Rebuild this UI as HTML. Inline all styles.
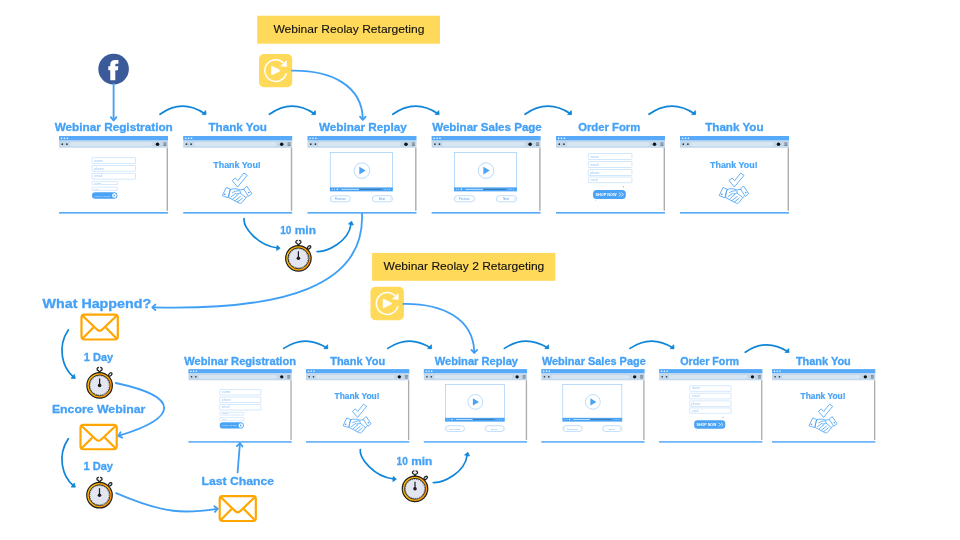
<!DOCTYPE html>
<html><head><meta charset="utf-8"><style>
html,body{margin:0;padding:0;background:#fff;width:960px;height:540px;overflow:hidden}
svg{display:block;font-family:"Liberation Sans",sans-serif;will-change:transform}
</style></head><body>
<svg width="960" height="540" viewBox="0 0 960 540">
<defs>
<g id="frame">
<rect x="0" y="0" width="109" height="77" fill="#fff"/>
<rect x="0" y="0" width="109" height="4.6" fill="#56aaf9"/>
<circle cx="2.6" cy="2.3" r="0.8" fill="#fff"/><circle cx="5.5" cy="2.3" r="0.8" fill="#fff"/><circle cx="8.4" cy="2.3" r="0.8" fill="#fff"/>
<rect x="0" y="4.6" width="109" height="7.2" fill="#c3d9eb"/>
<rect x="10.5" y="6.1" width="83" height="4.1" rx="2" fill="#d8e6f1"/>
<circle cx="3.3" cy="8.2" r="0.85" fill="#333"/><circle cx="7.9" cy="8.2" r="0.85" fill="#333"/>
<circle cx="98.5" cy="8.2" r="1.75" fill="#111"/>
<rect x="104.2" y="6.3" width="3.4" height="3.8" fill="#b9c9d6"/><path d="M104.4,6.9 H107.4 M104.4,8.2 H107.4 M104.4,9.5 H107.4" stroke="#56626c" stroke-width="0.6"/>
<rect x="107.6" y="11.8" width="1.4" height="63" fill="#acacac"/>
<rect x="0" y="76.1" width="109" height="1.5" fill="#4aa3f7"/>
</g>
<g id="regform">
<rect x="33.1" y="21.6" width="43.4" height="5.8" rx="0.6" fill="none" stroke="#a9d0f7" stroke-width="0.5"/>
<rect x="33.1" y="29.5" width="43.4" height="5.8" rx="0.6" fill="none" stroke="#a9d0f7" stroke-width="0.5"/>
<rect x="33.1" y="37.4" width="43.4" height="5.8" rx="0.6" fill="none" stroke="#a9d0f7" stroke-width="0.5"/>
<rect x="33.1" y="45.6" width="25.5" height="2.9" rx="0.6" fill="none" stroke="#a9d0f7" stroke-width="0.45"/>
<rect x="33.1" y="51.2" width="25.5" height="3.2" rx="0.6" fill="none" stroke="#a9d0f7" stroke-width="0.45"/>
<text x="35.3" y="25.6" font-size="3.2" fill="#9cc6f2" textLength="9" lengthAdjust="spacingAndGlyphs">name</text>
<text x="35.3" y="33.5" font-size="3.2" fill="#9cc6f2" textLength="9.5" lengthAdjust="spacingAndGlyphs">phone</text>
<text x="35.3" y="41.4" font-size="3.2" fill="#9cc6f2" textLength="8" lengthAdjust="spacingAndGlyphs">email</text>
<text x="35.6" y="47.9" font-size="2.4" fill="#8fc0f2" textLength="6.5" lengthAdjust="spacingAndGlyphs">prof</text>
<text x="35.6" y="53.8" font-size="2.4" fill="#9cc8f3" textLength="4.2" lengthAdjust="spacingAndGlyphs">loc</text>
<rect x="33" y="56.2" width="25.4" height="6.6" rx="3.3" fill="#4aa3f5"/>
<text x="34.8" y="60.5" font-size="2.5" font-weight="bold" fill="#c4e0fc" textLength="16" lengthAdjust="spacingAndGlyphs">APPLY NOW</text>
<circle cx="55.3" cy="59.5" r="2.3" fill="#fff"/>
<path d="M54.6,58.3 L56.4,59.5 L54.6,60.7 Z" fill="#4aa3f5"/>
</g>
<g id="thanks">
<text x="30.1" y="31.6" font-size="8.6" font-weight="bold" fill="#49a4f7" stroke="#49a4f7" stroke-width="0.2" textLength="47.5" lengthAdjust="spacingAndGlyphs">Thank You!</text>
<g fill="none" stroke="#4aa3f5" stroke-width="0.85" stroke-linejoin="round" stroke-linecap="round">
<path d="M49.33,44.33 L52.00,42.00 L54.67,44.67 L60.67,37.00 L64.00,39.33 L54.67,50.67 Z"/>
<path d="M39.33,59.33 L43.00,51.47 L47.13,53.33 L45.00,61.33 Z"/>
<path d="M63.67,50.33 L68.67,57.67 L65.33,60.33 L60.67,53.33 Z"/>
<path d="M47.13,53.33 C50.33,52.33 54.33,52.53 57.00,54.00 C58.33,53.67 59.33,53.33 60.67,53.33"/>
<path d="M49.33,56.67 C51.00,55.67 53.67,54.33 56.00,54.80 C57.67,55.20 58.00,57.00 55.67,57.47 L53.33,58.00"/>
<path d="M47.13,54.00 C46.00,56.00 45.67,59.33 45.67,61.67 L56.33,67.20 C57.33,67.67 58.00,67.33 58.67,66.67 L64.00,60.33"/>
<path d="M48.00,60.67 L52.47,57.33 M49.80,62.80 L55.00,58.53 M52.00,64.53 L57.33,60.33 M54.47,66.00 L59.33,62.00 M57.00,57.00 L62.33,61.33"/>
<circle cx="41.6" cy="58.2" r="0.35" fill="#4aa3f5"/><circle cx="65.6" cy="56.6" r="0.35" fill="#4aa3f5"/>
</g>
</g>
<g id="video">
<rect x="22.7" y="16.4" width="62.3" height="38.6" fill="none" stroke="#8cc3f7" stroke-width="0.6"/>
<circle cx="54.4" cy="34.6" r="7.8" fill="none" stroke="#8cc3f7" stroke-width="0.6"/>
<path d="M51.8,30.8 L58.2,34.6 L51.8,38.4 Z" fill="#4aa3f5"/>
<rect x="22.4" y="51.4" width="62.9" height="3.8" fill="#4aa3f5"/>
<rect x="33.8" y="52.9" width="17.8" height="0.8" fill="#d9ecfd"/>
<rect x="51.6" y="52.9" width="22.2" height="0.8" fill="#3a6e98"/>
<circle cx="25" cy="53.3" r="0.5" fill="#d9ecfd"/><circle cx="27" cy="53.3" r="0.5" fill="#d9ecfd"/><circle cx="29.8" cy="53.3" r="0.7" fill="#fff"/>
<circle cx="77.5" cy="53.3" r="0.5" fill="#d9ecfd"/><circle cx="79.5" cy="53.3" r="0.5" fill="#d9ecfd"/><circle cx="82" cy="53.3" r="0.5" fill="#d9ecfd"/>
<rect x="22.7" y="59.7" width="20.2" height="6.1" rx="3" fill="none" stroke="#8cc3f7" stroke-width="0.55"/>
<rect x="64.8" y="59.7" width="20.2" height="6.1" rx="3" fill="none" stroke="#8cc3f7" stroke-width="0.55"/>
<text x="27.2" y="63.9" font-size="2.6" fill="#5aa2ea" textLength="11" lengthAdjust="spacingAndGlyphs">Previous</text>
<text x="71.3" y="63.9" font-size="2.6" fill="#5aa2ea" textLength="6.2" lengthAdjust="spacingAndGlyphs">Next</text>
<path d="M24.8,61.9 L24,62.75 L24.8,63.6 M82.9,61.9 L83.7,62.75 L82.9,63.6" fill="none" stroke="#6aaef0" stroke-width="0.4"/>
</g>
<g id="order">
<rect x="32.3" y="17.5" width="43.6" height="6" rx="0.6" fill="none" stroke="#a9d0f7" stroke-width="0.5"/>
<rect x="32.3" y="25.5" width="43.6" height="6" rx="0.6" fill="none" stroke="#a9d0f7" stroke-width="0.5"/>
<rect x="32.3" y="33.5" width="43.6" height="6" rx="0.6" fill="none" stroke="#a9d0f7" stroke-width="0.5"/>
<rect x="32.3" y="41" width="43.6" height="5.7" rx="0.6" fill="none" stroke="#a9d0f7" stroke-width="0.5"/>
<text x="34.4" y="21.5" font-size="3" fill="#9cc6f2" textLength="8.5" lengthAdjust="spacingAndGlyphs">name</text>
<text x="34.6" y="29.5" font-size="3" fill="#9cc6f2" textLength="8" lengthAdjust="spacingAndGlyphs">email</text>
<text x="34" y="37.5" font-size="3" fill="#9cc6f2" textLength="9.5" lengthAdjust="spacingAndGlyphs">phone</text>
<text x="34.4" y="44.9" font-size="3" fill="#9cc6f2" textLength="7" lengthAdjust="spacingAndGlyphs">card</text>
<rect x="37" y="54" width="32.8" height="8.9" rx="3.5" fill="#4aa3f5"/>
<text x="39.5" y="59.7" font-size="3.6" font-weight="bold" fill="#fff" textLength="21" lengthAdjust="spacingAndGlyphs">SHOP NOW</text>
<path d="M62.8,56.6 L65,58.5 L62.8,60.4 M65.3,56.6 L67.5,58.5 L65.3,60.4" fill="none" stroke="#fff" stroke-width="0.7"/>
<path d="M67.2,51.2 L68,50.4 M67.3,50.6 l0.3,0.3" stroke="#4aa3f5" stroke-width="0.9"/>
<path d="M39,65 L40,64.3" stroke="#9cc6f2" stroke-width="0.6"/>
</g>
<linearGradient id="ringg" x1="0" y1="0" x2="1" y2="0.3"><stop offset="0" stop-color="#ffc107"/><stop offset="0.55" stop-color="#ffad00"/><stop offset="1" stop-color="#ff9800"/></linearGradient>
<g id="watch">
<rect x="-1.2" y="-14.6" width="2.4" height="2.2" fill="#1f1f1f"/>
<ellipse cx="0" cy="-16.3" rx="2.2" ry="1.45" fill="#eef0f6"/><path d="M-0.6,-17.9 C-3.2,-18.1 -3.2,-14.5 -0.6,-14.7 M0.6,-17.9 C3.2,-18.1 3.2,-14.5 0.6,-14.7" fill="none" stroke="#1f1f1f" stroke-width="1.25"/>
<g transform="translate(10.7,-10.9) rotate(45)"><ellipse cx="0" cy="0" rx="1.25" ry="2.05" fill="#f4f5f9" stroke="#1f1f1f" stroke-width="1.25"/></g>
<circle cx="0" cy="0" r="12.75" fill="url(#ringg)" stroke="#1f1f1f" stroke-width="1.2"/>
<circle cx="0" cy="0" r="10.4" fill="#e3e6f1" stroke="#1f1f1f" stroke-width="0.9"/>
<path d="M8.3,-5.2 A9.6,9.6 0 0 1 -1.5,9.5 A8.6,8.6 0 0 0 7.2,-4.6 Z" fill="#ccd1e0"/>
<circle cx="0" cy="0" r="9.55" fill="none" stroke="#2a2a2a" stroke-width="0.9" stroke-dasharray="0.6 1.4"/>
<line x1="0" y1="0" x2="0" y2="-7" stroke="#1f1f1f" stroke-width="1.2"/>
<circle cx="0" cy="0" r="1.8" fill="#1f1f1f"/>
</g>
<g id="env">
<rect x="1.1" y="1.1" width="36.3" height="24.9" rx="3" fill="#fff" stroke="#ffa600" stroke-width="2.2"/>
<path d="M2,2 L16.3,15.8 Q19.2,18.8 22.1,15.8 L36.5,2" fill="none" stroke="#ffa600" stroke-width="2.2"/>
<path d="M2.2,25 L13,14 M36.2,25 L25.4,14" fill="none" stroke="#ffa600" stroke-width="2.2"/>
</g>
<g id="replay">
<rect x="0" y="0" width="33.2" height="33.2" rx="5" fill="#ffd95a"/>
<path d="M27.3,19.2 A10.9,10.9 0 1 1 24.6,9" fill="none" stroke="#fff" stroke-width="1.5"/>
<path d="M27.5,6.8 L27.7,12.6 L21.8,12.1 Z" fill="#fff" stroke="#fff" stroke-width="0.5" stroke-linejoin="round"/>
<path d="M13.3,12.6 Q12.7,12.2 12.7,13 L12.7,20.2 Q12.7,21 13.3,20.6 L20.6,16.9 Q21.3,16.6 20.6,16.2 Z" fill="#fff" stroke="#fff" stroke-width="1" stroke-linejoin="round"/>
</g>
</defs>
<rect width="960" height="540" fill="#fff"/>
<g transform="translate(59,136)"><use href="#frame"/><use href="#regform"/></g>
<g transform="translate(183.2,136)"><use href="#frame"/><use href="#thanks"/></g>
<g transform="translate(307.5,136)"><use href="#frame"/><use href="#video"/></g>
<g transform="translate(431.6,136)"><use href="#frame"/><use href="#video"/></g>
<g transform="translate(556,136)"><use href="#frame"/><use href="#order"/></g>
<g transform="translate(680,136)"><use href="#frame"/><use href="#thanks"/></g>
<g transform="translate(188.4,369.1) scale(0.9477)"><use href="#frame"/><use href="#regform"/></g>
<g transform="translate(306,369.1) scale(0.9477)"><use href="#frame"/><use href="#thanks"/></g>
<g transform="translate(423.8,369.1) scale(0.9477)"><use href="#frame"/><use href="#video"/></g>
<g transform="translate(541.3,369.1) scale(0.9477)"><use href="#frame"/><use href="#video"/></g>
<g transform="translate(659.1,369.1) scale(0.9477)"><use href="#frame"/><use href="#order"/></g>
<g transform="translate(772,369.1) scale(0.9477)"><use href="#frame"/><use href="#thanks"/></g>
<text x="54.7" y="130.9" font-size="11.2" font-weight="bold" fill="#44a1f6" stroke="#44a1f6" stroke-width="0.3" stroke-linejoin="round" textLength="118.1" lengthAdjust="spacingAndGlyphs">Webinar Registration</text>
<text x="208.5" y="130.9" font-size="11.2" font-weight="bold" fill="#44a1f6" stroke="#44a1f6" stroke-width="0.3" stroke-linejoin="round" textLength="58.4" lengthAdjust="spacingAndGlyphs">Thank You</text>
<text x="318.95" y="130.9" font-size="11.2" font-weight="bold" fill="#44a1f6" stroke="#44a1f6" stroke-width="0.3" stroke-linejoin="round" textLength="87.85" lengthAdjust="spacingAndGlyphs">Webinar Replay</text>
<text x="432.2" y="130.9" font-size="11.2" font-weight="bold" fill="#44a1f6" stroke="#44a1f6" stroke-width="0.3" stroke-linejoin="round" textLength="109.6" lengthAdjust="spacingAndGlyphs">Webinar Sales Page</text>
<text x="578.2" y="130.9" font-size="11.2" font-weight="bold" fill="#44a1f6" stroke="#44a1f6" stroke-width="0.3" stroke-linejoin="round" textLength="62.1" lengthAdjust="spacingAndGlyphs">Order Form</text>
<text x="705.2" y="130.9" font-size="11.2" font-weight="bold" fill="#44a1f6" stroke="#44a1f6" stroke-width="0.3" stroke-linejoin="round" textLength="58.35" lengthAdjust="spacingAndGlyphs">Thank You</text>
<text x="184.29999999999998" y="364.6" font-size="10.6" font-weight="bold" fill="#44a1f6" stroke="#44a1f6" stroke-width="0.3" stroke-linejoin="round" textLength="111.75" lengthAdjust="spacingAndGlyphs">Webinar Registration</text>
<text x="330.2" y="364.6" font-size="10.6" font-weight="bold" fill="#44a1f6" stroke="#44a1f6" stroke-width="0.3" stroke-linejoin="round" textLength="55.1" lengthAdjust="spacingAndGlyphs">Thank You</text>
<text x="434.7" y="364.6" font-size="10.6" font-weight="bold" fill="#44a1f6" stroke="#44a1f6" stroke-width="0.3" stroke-linejoin="round" textLength="83.35" lengthAdjust="spacingAndGlyphs">Webinar Replay</text>
<text x="541.9000000000001" y="364.6" font-size="10.6" font-weight="bold" fill="#44a1f6" stroke="#44a1f6" stroke-width="0.3" stroke-linejoin="round" textLength="103.9" lengthAdjust="spacingAndGlyphs">Webinar Sales Page</text>
<text x="680.2" y="364.6" font-size="10.6" font-weight="bold" fill="#44a1f6" stroke="#44a1f6" stroke-width="0.3" stroke-linejoin="round" textLength="58.9" lengthAdjust="spacingAndGlyphs">Order Form</text>
<text x="795.9000000000001" y="364.6" font-size="10.6" font-weight="bold" fill="#44a1f6" stroke="#44a1f6" stroke-width="0.3" stroke-linejoin="round" textLength="54.9" lengthAdjust="spacingAndGlyphs">Thank You</text>
<text x="42.6" y="308.2" font-size="12.6" font-weight="bold" fill="#44a1f6" stroke="#44a1f6" stroke-width="0.3" stroke-linejoin="round" textLength="108.5" lengthAdjust="spacingAndGlyphs">What Happend?</text>
<text x="83.8" y="360.6" font-size="11.8" font-weight="bold" fill="#44a1f6" stroke="#44a1f6" stroke-width="0.3" stroke-linejoin="round" textLength="29.4" lengthAdjust="spacingAndGlyphs">1 Day</text>
<text x="51.9" y="413.1" font-size="11.8" font-weight="bold" fill="#44a1f6" stroke="#44a1f6" stroke-width="0.3" stroke-linejoin="round" textLength="93.4" lengthAdjust="spacingAndGlyphs">Encore Webinar</text>
<text x="83.4" y="470.4" font-size="11.8" font-weight="bold" fill="#44a1f6" stroke="#44a1f6" stroke-width="0.3" stroke-linejoin="round" textLength="29.6" lengthAdjust="spacingAndGlyphs">1 Day</text>
<text x="201.5" y="484.5" font-size="11.8" font-weight="bold" fill="#44a1f6" stroke="#44a1f6" stroke-width="0.3" stroke-linejoin="round" textLength="72.6" lengthAdjust="spacingAndGlyphs">Last Chance</text>
<text x="280.2" y="233.9" font-size="11.0" font-weight="bold" fill="#44a1f6" stroke="#44a1f6" stroke-width="0.3" stroke-linejoin="round" textLength="11.2" lengthAdjust="spacingAndGlyphs">10</text>
<text x="294.8" y="233.9" font-size="11.0" font-weight="bold" fill="#44a1f6" stroke="#44a1f6" stroke-width="0.3" stroke-linejoin="round" textLength="21.1" lengthAdjust="spacingAndGlyphs">min</text>
<text x="396.6" y="464.9" font-size="11.0" font-weight="bold" fill="#44a1f6" stroke="#44a1f6" stroke-width="0.3" stroke-linejoin="round" textLength="11.2" lengthAdjust="spacingAndGlyphs">10</text>
<text x="411.2" y="464.9" font-size="11.0" font-weight="bold" fill="#44a1f6" stroke="#44a1f6" stroke-width="0.3" stroke-linejoin="round" textLength="21.1" lengthAdjust="spacingAndGlyphs">min</text>
<rect x="257.2" y="15.7" width="182.8" height="28" fill="#ffd95a"/>
<text x="273.4" y="33.4" font-size="11.6" font-weight="normal" fill="#111" stroke="#111" stroke-width="0.12" stroke-linejoin="round" textLength="151.0" lengthAdjust="spacingAndGlyphs">Webinar Reolay Retargeting</text>
<rect x="372.1" y="252.9" width="183.3" height="27.9" fill="#ffd95a"/>
<text x="383.5" y="269.9" font-size="11.2" font-weight="normal" fill="#111" stroke="#111" stroke-width="0.12" stroke-linejoin="round" textLength="160.8" lengthAdjust="spacingAndGlyphs">Webinar Reolay 2 Retargeting</text>
<use href="#replay" transform="translate(259,54)"/>
<use href="#replay" transform="translate(370.5,286.8) scale(1.005)"/>
<circle cx="113.6" cy="69.1" r="15.3" fill="#3b5a9a"/>
<path d="M110.3,80.2 L110.3,70.2 L108.3,70.2 L108.3,66.2 L110.3,66.2 L110.3,64.6 C110.3,61.4 112,59.9 115.2,59.9 L118.4,59.9 L118.4,63.7 L116.7,63.7 C115.7,63.7 115.3,64.1 115.3,65 L115.3,66.2 L118.3,66.2 L117.9,70.2 L115.3,70.2 L115.3,80.2 Z" fill="#fff"/>
<use href="#env" transform="translate(80.4,313.5)"/>
<use href="#env" transform="translate(79.4,423.8) scale(0.998,0.98)"/>
<use href="#env" transform="translate(218.6,495) scale(0.995,1)"/>
<use href="#watch" transform="translate(298.4,258.3)"/>
<use href="#watch" transform="translate(415,488.8)"/>
<use href="#watch" transform="translate(99.6,385.4)"/>
<use href="#watch" transform="translate(99.5,495.2)"/>
<path d="M160,114.3 Q182.0,98.3 204.8,113.7" fill="none" stroke="#0e85d8" stroke-width="1.7" stroke-linecap="round"/>
<path d="M202.0,114.6 L206.1,114.6 L205.7,110.6 Z" fill="#0e85d8" stroke="#0e85d8" stroke-width="0.7" stroke-linejoin="round"/>
<path d="M269.4,114.3 Q291.5,98.3 314.40000000000003,113.7" fill="none" stroke="#0e85d8" stroke-width="1.7" stroke-linecap="round"/>
<path d="M311.6,114.6 L315.70000000000005,114.6 L315.3,110.6 Z" fill="#0e85d8" stroke="#0e85d8" stroke-width="0.7" stroke-linejoin="round"/>
<path d="M392.8,114.3 Q414.95000000000005,98.3 437.90000000000003,113.7" fill="none" stroke="#0e85d8" stroke-width="1.7" stroke-linecap="round"/>
<path d="M435.1,114.6 L439.20000000000005,114.6 L438.8,110.6 Z" fill="#0e85d8" stroke="#0e85d8" stroke-width="0.7" stroke-linejoin="round"/>
<path d="M525,114.3 Q547.3,98.3 570.4,113.7" fill="none" stroke="#0e85d8" stroke-width="1.7" stroke-linecap="round"/>
<path d="M567.6,114.6 L571.7,114.6 L571.3000000000001,110.6 Z" fill="#0e85d8" stroke="#0e85d8" stroke-width="0.7" stroke-linejoin="round"/>
<path d="M649,114.3 Q671.3,98.3 694.4,113.7" fill="none" stroke="#0e85d8" stroke-width="1.7" stroke-linecap="round"/>
<path d="M691.6,114.6 L695.7,114.6 L695.3000000000001,110.6 Z" fill="#0e85d8" stroke="#0e85d8" stroke-width="0.7" stroke-linejoin="round"/>
<path d="M283.75,348.4 Q304.775,334.0 326.6,347.79999999999995" fill="none" stroke="#0e85d8" stroke-width="1.7" stroke-linecap="round"/>
<path d="M323.8,348.7 L327.90000000000003,348.7 L327.5,344.7 Z" fill="#0e85d8" stroke="#0e85d8" stroke-width="0.7" stroke-linejoin="round"/>
<path d="M387.8,348.4 Q408.70000000000005,334.0 430.40000000000003,347.79999999999995" fill="none" stroke="#0e85d8" stroke-width="1.7" stroke-linecap="round"/>
<path d="M427.6,348.7 L431.70000000000005,348.7 L431.3,344.7 Z" fill="#0e85d8" stroke="#0e85d8" stroke-width="0.7" stroke-linejoin="round"/>
<path d="M504.4,348.4 Q525.575,334.0 547.55,347.79999999999995" fill="none" stroke="#0e85d8" stroke-width="1.7" stroke-linecap="round"/>
<path d="M544.75,348.7 L548.85,348.7 L548.45,344.7 Z" fill="#0e85d8" stroke="#0e85d8" stroke-width="0.7" stroke-linejoin="round"/>
<path d="M630,348.4 Q651.0,334.0 672.8,347.79999999999995" fill="none" stroke="#0e85d8" stroke-width="1.7" stroke-linecap="round"/>
<path d="M670.0,348.7 L674.1,348.7 L673.7,344.7 Z" fill="#0e85d8" stroke="#0e85d8" stroke-width="0.7" stroke-linejoin="round"/>
<path d="M745.3,352.2 Q766.15,337.8 787.8,351.59999999999997" fill="none" stroke="#0e85d8" stroke-width="1.7" stroke-linecap="round"/>
<path d="M785.0,352.5 L789.1,352.5 L788.7,348.5 Z" fill="#0e85d8" stroke="#0e85d8" stroke-width="0.7" stroke-linejoin="round"/>
<path d="M113.6,84 L113.6,120" fill="none" stroke="#3f9ff7" stroke-width="1.8" stroke-linecap="round" stroke-linejoin="round"/>
<path d="M116.41,117.18 L113.60,120.30 L110.79,117.18" fill="none" stroke="#3f9ff7" stroke-width="1.8" stroke-linecap="round" stroke-linejoin="round"/>
<path d="M292,70.7 C331.3,70.2 362.1,85.6 362.8,119" fill="none" stroke="#3f9ff7" stroke-width="1.8" stroke-linecap="round" stroke-linejoin="round"/>
<path d="M365.61,116.68 L362.80,119.80 L359.99,116.68" fill="none" stroke="#3f9ff7" stroke-width="1.8" stroke-linecap="round" stroke-linejoin="round"/>
<g transform="translate(111.45,233.2)">
<path d="M292,70.7 C331.3,70.2 362.1,85.6 362.8,119" fill="none" stroke="#3f9ff7" stroke-width="1.8" stroke-linecap="round" stroke-linejoin="round"/>
<path d="M365.61,116.68 L362.80,119.80 L359.99,116.68" fill="none" stroke="#3f9ff7" stroke-width="1.8" stroke-linecap="round" stroke-linejoin="round"/>
</g>
<path d="M362,213.5 C365.1,285.2 285.7,310.7 152.8,307.3" fill="none" stroke="#3f9ff7" stroke-width="1.8" stroke-linecap="round" stroke-linejoin="round"/>
<path d="M155.42,310.11 L152.30,307.30 L155.42,304.49" fill="none" stroke="#3f9ff7" stroke-width="1.8" stroke-linecap="round" stroke-linejoin="round"/>
<g transform="translate(0,0)">
<path d="M244.1,218.7 C242.9,226.5 257,245.6 277.5,248" fill="none" stroke="#0e85d8" stroke-width="1.7" stroke-linecap="round" stroke-linejoin="round"/>
<path d="M280.20,248.20 L276.63,250.56 L276.99,245.37 Z" fill="#0e85d8" stroke="#0e85d8" stroke-width="0.7" stroke-linejoin="round"/>
<path d="M317.1,251.5 C326.6,252 348.6,242 350.9,224.5" fill="none" stroke="#0e85d8" stroke-width="1.7" stroke-linecap="round" stroke-linejoin="round"/>
<path d="M351.60,221.20 L353.44,225.07 L348.35,223.99 Z" fill="#0e85d8" stroke="#0e85d8" stroke-width="0.7" stroke-linejoin="round"/>
</g>
<g transform="translate(116.2,231)">
<path d="M244.1,218.7 C242.9,226.5 257,245.6 277.5,248" fill="none" stroke="#0e85d8" stroke-width="1.7" stroke-linecap="round" stroke-linejoin="round"/>
<path d="M280.20,248.20 L276.63,250.56 L276.99,245.37 Z" fill="#0e85d8" stroke="#0e85d8" stroke-width="0.7" stroke-linejoin="round"/>
<path d="M317.1,251.5 C326.6,252 348.6,242 350.9,224.5" fill="none" stroke="#0e85d8" stroke-width="1.7" stroke-linecap="round" stroke-linejoin="round"/>
<path d="M351.60,221.20 L353.44,225.07 L348.35,223.99 Z" fill="#0e85d8" stroke="#0e85d8" stroke-width="0.7" stroke-linejoin="round"/>
</g>
<g transform="translate(0,0)">
<path d="M68.3,330 C56.6,347.1 62.7,368 73,376.6" fill="none" stroke="#0e85d8" stroke-width="1.7" stroke-linecap="round" stroke-linejoin="round"/>
<path d="M75.40,378.40 L71.12,378.36 L74.32,374.26 Z" fill="#0e85d8" stroke="#0e85d8" stroke-width="0.7" stroke-linejoin="round"/>
</g>
<g transform="translate(0,108.75)">
<path d="M68.3,330 C56.6,347.1 62.7,368 73,376.6" fill="none" stroke="#0e85d8" stroke-width="1.7" stroke-linecap="round" stroke-linejoin="round"/>
<path d="M75.40,378.40 L71.12,378.36 L74.32,374.26 Z" fill="#0e85d8" stroke="#0e85d8" stroke-width="0.7" stroke-linejoin="round"/>
</g>
<path d="M115.8,383 C181.8,397.1 177.6,418 119,435.7" fill="none" stroke="#3f9ff7" stroke-width="1.8" stroke-linecap="round" stroke-linejoin="round"/>
<path d="M122.21,437.67 L118.40,435.90 L120.56,432.30" fill="none" stroke="#3f9ff7" stroke-width="1.8" stroke-linecap="round" stroke-linejoin="round"/>
<path d="M116.25,493.1 C165.2,514.3 185.3,513.7 217,508.8" fill="none" stroke="#3f9ff7" stroke-width="1.8" stroke-linecap="round" stroke-linejoin="round"/>
<path d="M214.35,506.28 L217.75,508.75 L214.94,511.87" fill="none" stroke="#3f9ff7" stroke-width="1.8" stroke-linecap="round" stroke-linejoin="round"/>
<path d="M237.6,472.5 L239.9,443.6" fill="none" stroke="#3f9ff7" stroke-width="1.8" stroke-linecap="round" stroke-linejoin="round"/>
<path d="M236.88,446.06 L239.95,443.20 L242.48,446.55" fill="none" stroke="#3f9ff7" stroke-width="1.8" stroke-linecap="round" stroke-linejoin="round"/>
</svg>
</body></html>
